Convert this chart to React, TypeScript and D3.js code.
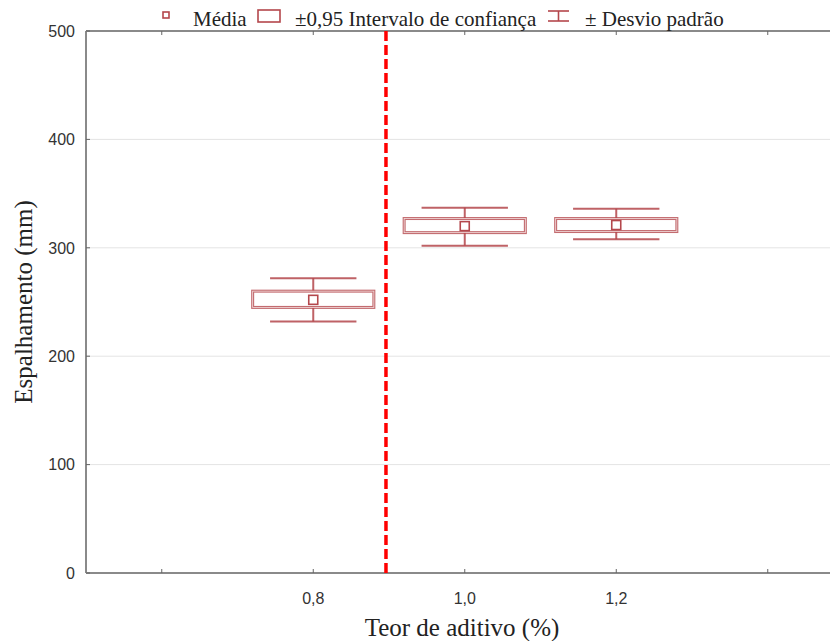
import React from "react";
import * as d3 from "d3";

const categories = ["0,8", "1,0", "1,2"];
const catIndex = [1, 2, 3];
const tickIndex = [0, 1, 2, 3, 4];
const means = [252, 320, 321];
const ciLow = [245, 314, 315];
const ciHigh = [260, 327, 327];
const sdLow = [232, 302, 308];
const sdHigh = [272, 337, 336];
const yTicks = [0, 100, 200, 300, 400, 500];
const refLineIndex = 1.48;

const W = 830, H = 641;
const left = 86, top = 31, bottom = 573;
const step = 151.5;

export default function App() {
  const x = d3.scaleLinear().domain([-0.5, 4.5]).range([left, left + 5 * step]);
  const y = d3.scaleLinear().domain([0, 500]).range([bottom, top]);
  const boxHalf = step * 0.4;
  const capHalf = step * 0.285;
  const col = "#b4474c";
  const serif = "'Liberation Serif', 'Times New Roman', serif";
  const sans = "'Liberation Sans', Arial, sans-serif";

  return (
    <svg width={W} height={H} style={{ position: "absolute", left: 0, top: 0, background: "#fff" }}>
      {yTicks.filter(t => t > 0 && t < 500).map(t => (
        <line key={"g" + t} x1={left} x2={W} y1={y(t)} y2={y(t)} stroke="#e4e4e4" strokeWidth={1} />
      ))}
      <line x1={left} x2={W} y1={top} y2={top} stroke="#8a8a8a" strokeWidth={2} />
      <line x1={left} x2={W} y1={bottom} y2={bottom} stroke="#8a8a8a" strokeWidth={2} />
      <line x1={left} x2={left} y1={top} y2={bottom} stroke="#8a8a8a" strokeWidth={2} />
      {tickIndex.map(i => (
        <g key={"xt" + i}>
          <line x1={x(i)} x2={x(i)} y1={bottom} y2={bottom - 4} stroke="#666" strokeWidth={1} />
          <line x1={x(i)} x2={x(i)} y1={top} y2={top + 4} stroke="#666" strokeWidth={1} />
        </g>
      ))}
      {yTicks.map(t => (
        <g key={"yt" + t}>
          <line x1={left} x2={left + 4} y1={y(t)} y2={y(t)} stroke="#666" strokeWidth={1} />
          <text x={left - 11} y={y(t)} dy="0.36em" textAnchor="end" fontFamily={sans} fontSize={16} fill="#333">{t}</text>
        </g>
      ))}
      {categories.map((c, i) => (
        <text key={"xl" + c} x={x(catIndex[i])} y={bottom + 31} textAnchor="middle" fontFamily={sans} fontSize={16} fill="#333">{c}</text>
      ))}
      <line x1={x(refLineIndex)} x2={x(refLineIndex)} y1={top} y2={bottom} stroke="#ff0000" strokeWidth={3.5} strokeDasharray="10,4" />
      {categories.map((c, i) => {
        const cx = x(catIndex[i]);
        return (
          <g key={"b" + c}>
            <line x1={cx} x2={cx} y1={y(sdHigh[i])} y2={y(ciHigh[i])} stroke={col} strokeWidth={2} opacity={0.85} />
            <line x1={cx} x2={cx} y1={y(ciLow[i])} y2={y(sdLow[i])} stroke={col} strokeWidth={2} opacity={0.85} />
            <line x1={cx - capHalf} x2={cx + capHalf} y1={y(sdHigh[i])} y2={y(sdHigh[i])} stroke={col} strokeWidth={2} opacity={0.85} />
            <line x1={cx - capHalf} x2={cx + capHalf} y1={y(sdLow[i])} y2={y(sdLow[i])} stroke={col} strokeWidth={2} opacity={0.85} />
            <rect x={cx - boxHalf} y={y(ciHigh[i])} width={2 * boxHalf} height={y(ciLow[i]) - y(ciHigh[i])} fill="none" stroke={col} strokeWidth={3} opacity={0.8} />
            <rect x={cx - boxHalf} y={y(ciHigh[i])} width={2 * boxHalf} height={y(ciLow[i]) - y(ciHigh[i])} fill="none" stroke="#f3dcdc" strokeWidth={0.8} />
            <rect x={cx - 4.5} y={y(means[i]) - 4.5} width={9} height={9} fill="#fff" stroke={col} strokeWidth={1.6} />
          </g>
        );
      })}
      <g>
        <rect x={163} y={12} width={6} height={6} fill="#fff" stroke={col} strokeWidth={1.6} />
        <text x={193} y={26} fontFamily={serif} fontSize={21} fill="#222">Média</text>
        <rect x={258} y={10} width={22} height={12} fill="none" stroke={col} strokeWidth={1.6} />
        <text x={295} y={26} fontFamily={serif} fontSize={21} fill="#222">±0,95 Intervalo de confiança</text>
        <line x1={548} x2={569} y1={11} y2={11} stroke={col} strokeWidth={1.6} />
        <line x1={558.5} x2={558.5} y1={11} y2={21} stroke={col} strokeWidth={1.6} />
        <line x1={548} x2={569} y1={21} y2={21} stroke={col} strokeWidth={1.6} />
        <text x={585} y={26} fontFamily={serif} fontSize={21} fill="#222">± Desvio padrão</text>
      </g>
      <text x={462} y={636} textAnchor="middle" fontFamily={serif} fontSize={25} fill="#222">Teor de aditivo (%)</text>
      <text transform={`translate(32,${(top + bottom) / 2}) rotate(-90)`} textAnchor="middle" fontFamily={serif} fontSize={25} fill="#222">Espalhamento (mm)</text>
    </svg>
  );
}
